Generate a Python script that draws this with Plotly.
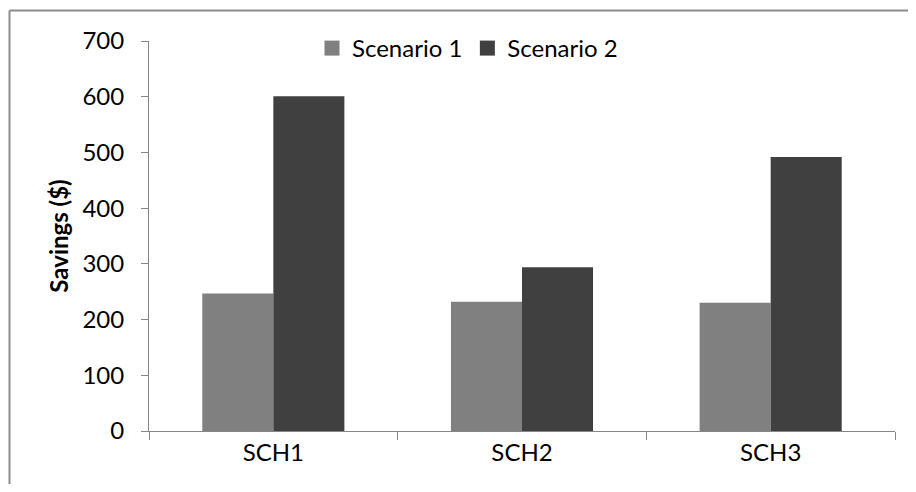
import plotly.graph_objects as go

categories = ["SCH1", "SCH2", "SCH3"]
scenario1 = [247, 232, 230]
scenario2 = [601, 294, 492]
y_ticks = [0, 100, 200, 300, 400, 500, 600, 700]

OFF = 8  # page body margin
W, H = 916 - 2 * OFF, 492 - 2 * OFF
# target screen positions
AX_L, AX_R, AX_T, AX_B = 149, 895, 41, 431
L, T = AX_L - OFF, AX_T - OFF
R, B = W - (AX_R - OFF), H - (AX_B - OFF)
pw, ph = W - L - R, H - T - B

def px_x(p):
    return (p - OFF - L) / pw

def px_y(p):
    return (H - B - (p - OFF)) / ph

FONT = "Lato"
FS = 24
fig = go.Figure()
fig.add_trace(go.Bar(x=categories, y=scenario1, name="Scenario 1",
                     marker=dict(color="#808080", line=dict(width=0)), showlegend=False))
fig.add_trace(go.Bar(x=categories, y=scenario2, name="Scenario 2",
                     marker=dict(color="#404040", line=dict(width=0)), showlegend=False))
# legend entries
fig.add_trace(go.Scatter(x=[None], y=[None], mode="markers", name="Scenario 1",
                         marker=dict(symbol="square", size=15, color="#808080")))
fig.add_trace(go.Scatter(x=[None], y=[None], mode="markers", name="Scenario 2",
                         marker=dict(symbol="square", size=15, color="#404040")))

border = dict(color="#8c8c8c", width=2)
fig.update_layout(
    width=W, height=H,
    margin=dict(l=L, r=R, t=T, b=B, autoexpand=False),
    paper_bgcolor="white", plot_bgcolor="white",
    font=dict(family=FONT, size=FS, color="black"),
    barmode="group", bargap=0.4286, bargroupgap=0,
    legend=dict(orientation="h", x=px_x(312), y=px_y(26), xanchor="left", yanchor="top",
                bgcolor="rgba(0,0,0,0)", font=dict(size=FS), itemwidth=30,
                tracegroupgap=0),
    xaxis=dict(showline=True, linecolor="#868686", linewidth=1, ticks="outside",
               ticklen=8, tickcolor="#868686", tickson="boundaries", showgrid=False,
               zeroline=False, tickfont=dict(size=FS)),
    yaxis=dict(range=[0, 700], tickvals=y_ticks, showline=True, linecolor="#868686",
               linewidth=1, ticks="outside", ticklen=7, tickcolor="#868686",
               showgrid=False, zeroline=False, tickfont=dict(size=FS),
               ticklabelstandoff=12,
               title=dict(text="<b>Savings ($)</b>", font=dict(size=FS), standoff=7)),
    shapes=[
        dict(type="line", xref="paper", yref="paper", x0=px_x(9.5), x1=px_x(916),
             y0=px_y(10.5), y1=px_y(10.5), line=border, layer="below"),
        dict(type="line", xref="paper", yref="paper", x0=px_x(9.5), x1=px_x(9.5),
             y0=px_y(10.5), y1=px_y(492), line=border, layer="below"),
    ],
)

fig.write_html("out.html")
